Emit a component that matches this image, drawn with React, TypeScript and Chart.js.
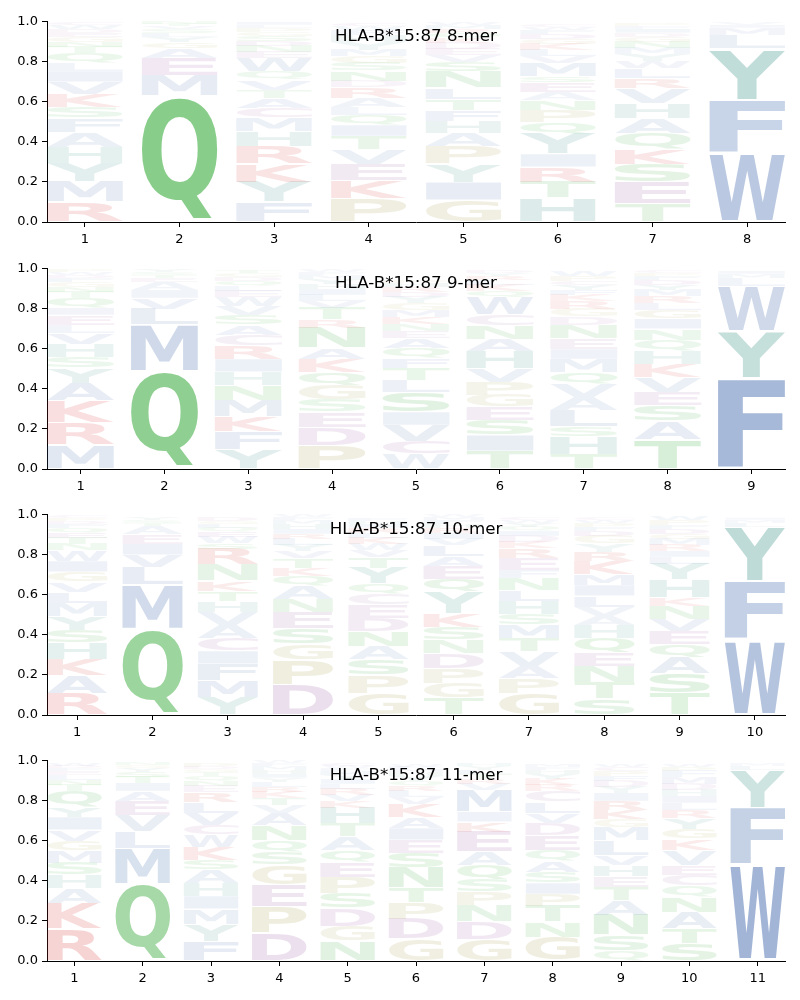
import React, { useEffect, useRef } from "react";
import { Chart, registerables } from "chart.js";

Chart.register(...registerables);

const ALLELE = "HLA-B*15:87";

// ---- 8-mer: letters bottom→top per position, with heights ----
const mer8Letters = [
  "RMYHAFSKVILQTNGEDWC",
  "QMEAGYLSVTN",
  "FYKRHMCATVQWENDSGPLI",
  "PKEVTIQLARDNSGMYHFWC",
  "GIYPAHFTLNSVEDKQRMW",
  "HTRIYQPNAESMVLKGDFWC",
  "TESKQAHVRLWYMNGDIFP",
  "WFYLMIV",
];
const mer8Heights = [
  [0.10, 0.10, 0.095, 0.08, 0.075, 0.07, 0.055, 0.065, 0.06, 0.055, 0.04, 0.05, 0.03, 0.025, 0.025, 0.02, 0.02, 0.02, 0.015],
  [0.63, 0.10, 0.09, 0.05, 0.03, 0.025, 0.02, 0.02, 0.015, 0.01, 0.01],
  [0.10, 0.10, 0.09, 0.09, 0.075, 0.065, 0.05, 0.05, 0.04, 0.05, 0.04, 0.07, 0.03, 0.03, 0.025, 0.025, 0.02, 0.02, 0.015, 0.015],
  [0.12, 0.09, 0.08, 0.075, 0.065, 0.055, 0.05, 0.04, 0.045, 0.055, 0.03, 0.05, 0.04, 0.035, 0.03, 0.04, 0.035, 0.025, 0.02, 0.015],
  [0.11, 0.09, 0.09, 0.09, 0.065, 0.06, 0.055, 0.055, 0.055, 0.08, 0.05, 0.035, 0.03, 0.03, 0.025, 0.025, 0.02, 0.02, 0.015],
  [0.12, 0.08, 0.075, 0.065, 0.10, 0.06, 0.06, 0.05, 0.04, 0.05, 0.03, 0.065, 0.035, 0.03, 0.03, 0.025, 0.025, 0.02, 0.015, 0.01],
  [0.09, 0.11, 0.09, 0.075, 0.08, 0.075, 0.075, 0.075, 0.05, 0.05, 0.035, 0.035, 0.03, 0.03, 0.025, 0.02, 0.02, 0.015, 0.015],
  [0.345, 0.265, 0.255, 0.07, 0.035, 0.015, 0.01],
];

// ---- 9-mer ----
const mer9Letters = [
  "MRKAYSHVLEIQTNGFDWP",
  "QMLVIAETSY",
  "YFKMNHIRCASVWELQDGT",
  "PDESGQKANRTVLIHYMFW",
  "WCVISLTFQAENKMGYDRHP",
  "TISEGPVHANCWQKLRYD",
  "THSLAVQMIENDGRKFYCPW",
  "TASEVKHQNIGLRMYDFPC",
  "FYWLMI",
];
const mer9Heights = [
  [0.12, 0.11, 0.11, 0.09, 0.075, 0.055, 0.065, 0.055, 0.04, 0.05, 0.035, 0.05, 0.03, 0.025, 0.025, 0.02, 0.015, 0.015, 0.01],
  [0.49, 0.23, 0.08, 0.055, 0.04, 0.04, 0.02, 0.015, 0.015, 0.01],
  [0.10, 0.09, 0.075, 0.08, 0.075, 0.065, 0.065, 0.065, 0.055, 0.05, 0.05, 0.045, 0.045, 0.03, 0.025, 0.025, 0.02, 0.02, 0.015],
  [0.12, 0.09, 0.075, 0.06, 0.075, 0.065, 0.065, 0.055, 0.10, 0.04, 0.06, 0.035, 0.03, 0.03, 0.025, 0.025, 0.02, 0.015, 0.01],
  [0.075, 0.065, 0.08, 0.065, 0.10, 0.06, 0.06, 0.05, 0.05, 0.05, 0.035, 0.035, 0.035, 0.035, 0.035, 0.03, 0.025, 0.025, 0.02, 0.015],
  [0.09, 0.08, 0.075, 0.065, 0.06, 0.065, 0.065, 0.09, 0.06, 0.065, 0.055, 0.09, 0.03, 0.03, 0.025, 0.02, 0.015, 0.01],
  [0.075, 0.09, 0.05, 0.08, 0.065, 0.065, 0.06, 0.065, 0.05, 0.055, 0.065, 0.04, 0.04, 0.04, 0.03, 0.025, 0.025, 0.02, 0.025, 0.025],
  [0.15, 0.09, 0.08, 0.065, 0.075, 0.065, 0.065, 0.055, 0.055, 0.05, 0.045, 0.035, 0.035, 0.03, 0.025, 0.025, 0.02, 0.015, 0.01],
  [0.455, 0.235, 0.225, 0.04, 0.02, 0.015],
];

// ---- 10-mer ----
const mer10Letters = [
  "RAKHSYMLVGIWNTEQFDPC",
  "QMLVIEATSY",
  "YMFICAVHTKNRSWEQLGD",
  "DPGSENAQKTVYLRIHMFW",
  "GPSANDECQYTVWKLRIHF",
  "TGPDNSKYQEALVIRHFMW",
  "GPAVTMSHLNFERKDIQYWC",
  "STNEQHAVLIMKRYGDFPWC",
  "TSAQEVNKHYLIRMGDFPW",
  "WFYLMI",
];
const mer10Heights = [
  [0.11, 0.09, 0.08, 0.08, 0.065, 0.07, 0.065, 0.055, 0.05, 0.05, 0.055, 0.055, 0.03, 0.03, 0.025, 0.025, 0.02, 0.015, 0.015, 0.01],
  [0.43, 0.22, 0.09, 0.06, 0.055, 0.05, 0.04, 0.015, 0.015, 0.01],
  [0.09, 0.085, 0.08, 0.065, 0.065, 0.065, 0.065, 0.055, 0.05, 0.05, 0.08, 0.08, 0.03, 0.03, 0.025, 0.02, 0.02, 0.015, 0.02],
  [0.15, 0.125, 0.08, 0.08, 0.08, 0.065, 0.065, 0.05, 0.04, 0.05, 0.035, 0.03, 0.03, 0.025, 0.025, 0.025, 0.02, 0.015, 0.01],
  [0.11, 0.09, 0.08, 0.065, 0.075, 0.065, 0.065, 0.055, 0.05, 0.08, 0.055, 0.035, 0.03, 0.03, 0.025, 0.025, 0.02, 0.015, 0.015],
  [0.085, 0.075, 0.075, 0.075, 0.065, 0.065, 0.065, 0.11, 0.065, 0.065, 0.05, 0.055, 0.03, 0.03, 0.025, 0.02, 0.02, 0.015, 0.01],
  [0.11, 0.075, 0.06, 0.075, 0.065, 0.065, 0.055, 0.065, 0.055, 0.06, 0.04, 0.06, 0.05, 0.03, 0.03, 0.025, 0.02, 0.02, 0.015, 0.015],
  [0.08, 0.085, 0.08, 0.065, 0.075, 0.065, 0.045, 0.045, 0.055, 0.055, 0.055, 0.065, 0.045, 0.04, 0.04, 0.025, 0.02, 0.02, 0.015, 0.01],
  [0.11, 0.10, 0.08, 0.065, 0.065, 0.06, 0.065, 0.04, 0.09, 0.08, 0.035, 0.03, 0.03, 0.03, 0.025, 0.025, 0.02, 0.025, 0.02],
  [0.375, 0.295, 0.27, 0.02, 0.015, 0.01],
];

// ---- 11-mer ----
const mer11Letters = [
  "RKAHSMGVIYQTNLEFDW",
  "QMLVEAITSYGN",
  "FYMIHASKWCVLRENQTGDP",
  "DPEGSQNAVTKRLYIHMFW",
  "NGDSPEQATHKVRLIYMFWC",
  "GDPTNSEIAKVLRQYHMFW",
  "GDNPSQAEKIMVRTLYH",
  "GNTPISAQEDVLCRKYHFM",
  "QSNATEHVLMGKRIYDFPCW",
  "STANQCEVKGYRLIHDMFPW",
  "WFYLM",
];
const mer11Heights = [
  [0.16, 0.13, 0.075, 0.065, 0.06, 0.06, 0.05, 0.055, 0.065, 0.05, 0.08, 0.03, 0.025, 0.025, 0.02, 0.015, 0.01, 0.015],
  [0.385, 0.175, 0.085, 0.08, 0.075, 0.05, 0.04, 0.03, 0.025, 0.02, 0.015, 0.01],
  [0.10, 0.085, 0.075, 0.065, 0.065, 0.065, 0.05, 0.065, 0.06, 0.05, 0.06, 0.055, 0.05, 0.03, 0.025, 0.025, 0.02, 0.015, 0.01, 0.02],
  [0.14, 0.13, 0.11, 0.10, 0.065, 0.06, 0.075, 0.06, 0.04, 0.035, 0.03, 0.025, 0.025, 0.02, 0.02, 0.02, 0.02, 0.015, 0.01],
  [0.10, 0.075, 0.09, 0.075, 0.08, 0.075, 0.06, 0.065, 0.065, 0.08, 0.035, 0.03, 0.03, 0.025, 0.025, 0.02, 0.02, 0.015, 0.01, 0.015],
  [0.11, 0.10, 0.08, 0.075, 0.10, 0.075, 0.065, 0.06, 0.055, 0.065, 0.035, 0.03, 0.025, 0.025, 0.025, 0.02, 0.015, 0.01, 0.01],
  [0.11, 0.09, 0.08, 0.065, 0.06, 0.075, 0.065, 0.10, 0.05, 0.05, 0.11, 0.03, 0.025, 0.025, 0.02, 0.02, 0.015],
  [0.12, 0.075, 0.08, 0.06, 0.055, 0.055, 0.055, 0.055, 0.075, 0.06, 0.05, 0.055, 0.055, 0.03, 0.03, 0.025, 0.02, 0.015, 0.015],
  [0.05, 0.08, 0.10, 0.075, 0.065, 0.055, 0.055, 0.05, 0.075, 0.065, 0.04, 0.045, 0.045, 0.04, 0.03, 0.03, 0.025, 0.025, 0.02, 0.015],
  [0.09, 0.075, 0.08, 0.075, 0.055, 0.055, 0.05, 0.075, 0.055, 0.05, 0.055, 0.04, 0.035, 0.035, 0.03, 0.03, 0.035, 0.03, 0.02, 0.015],
  [0.48, 0.285, 0.19, 0.02, 0.01],
];

const yTickValues = [0, 0.2, 0.4, 0.6, 0.8, 1.0];

// amino-acid colour groups (RGB)
const BLUE = [76, 114, 176];
const TEAL = [45, 138, 125];
const GREEN = [44, 165, 48];
const RED = [214, 39, 40];
const PURPLE = [150, 80, 160];
const OLIVE = [160, 150, 60];
const AA_COLOR: Record<string, number[]> = {
  A: BLUE, V: BLUE, L: BLUE, I: BLUE, M: BLUE, F: BLUE, W: BLUE,
  Y: TEAL, H: TEAL,
  Q: GREEN, N: GREEN, S: GREEN, T: GREEN,
  R: RED, K: RED,
  D: PURPLE, E: PURPLE, C: PURPLE,
  P: OLIVE, G: OLIVE,
};

const GLYPH_FONT = "bold 200px 'DejaVu Sans'";
const glyphCache: Record<string, { l: number; r: number; a: number; d: number }> = {};

function measureGlyph(ctx: CanvasRenderingContext2D, ch: string) {
  if (!glyphCache[ch]) {
    ctx.font = GLYPH_FONT;
    const m = ctx.measureText(ch);
    glyphCache[ch] = {
      l: m.actualBoundingBoxLeft,
      r: m.actualBoundingBoxRight,
      a: m.actualBoundingBoxAscent,
      d: m.actualBoundingBoxDescent,
    };
  }
  return glyphCache[ch];
}

const logoPlugin = {
  id: "logoLetters",
  afterDatasetsDraw(chart: any) {
    const ctx: CanvasRenderingContext2D = chart.ctx;
    ctx.save();
    ctx.font = GLYPH_FONT;
    ctx.textAlign = "left";
    ctx.textBaseline = "alphabetic";
    chart.data.datasets.forEach((ds: any, d: number) => {
      const meta = chart.getDatasetMeta(d);
      meta.data.forEach((el: any, i: number) => {
        const val = ds.data[i].y;
        const ch = ds.letters[i];
        if (!val || !ch) return;
        const p = el.getProps(["x", "y", "base", "width"], true);
        const top = Math.min(p.y, p.base);
        const bot = Math.max(p.y, p.base);
        const hh = bot - top;
        const pad = hh * 0.025;
        const g = measureGlyph(ctx, ch);
        const gw = g.l + g.r;
        const gh = g.a + g.d;
        const c = AA_COLOR[ch] || BLUE;
        const alpha = Math.min(0.56, 0.04 + val);
        ctx.save();
        ctx.translate(p.x - p.width / 2, top + pad);
        ctx.scale(p.width / gw, (hh - 2 * pad) / gh);
        ctx.fillStyle = `rgba(${c[0]},${c[1]},${c[2]},${alpha})`;
        ctx.font = GLYPH_FONT;
        ctx.fillText(ch, g.l, g.a);
        ctx.restore();
      });
    });
    ctx.restore();
  },
};

const titlePlugin = {
  id: "innerTitle",
  afterDraw(chart: any) {
    const t = chart.options.plugins.innerTitle?.text;
    if (!t) return;
    const { left, right, top } = chart.chartArea;
    const ctx: CanvasRenderingContext2D = chart.ctx;
    ctx.save();
    ctx.font = "16.7px 'DejaVu Sans'";
    ctx.fillStyle = "#000";
    ctx.textAlign = "center";
    ctx.textBaseline = "middle";
    ctx.fillText(t, (left + right) / 2, top + 15);
    ctx.restore();
  },
};

const TICK_FONT = { family: "'DejaVu Sans'", size: 13 };

function LogoPanel({ title, letters, heights, top }: { title: string; letters: string[]; heights: number[][]; top: number }) {
  const ref = useRef<HTMLCanvasElement>(null);
  useEffect(() => {
    const n = letters.length;
    const positions = letters.map((_, i) => i + 1);
    const layers = Math.max(...letters.map((s) => s.length));
    const datasets: any[] = [];
    for (let k = 0; k < layers; k++) {
      datasets.push({
        data: positions.map((pos, i) => ({ x: pos, y: heights[i][k] ?? 0 })),
        letters: letters.map((s) => s[k] ?? ""),
        backgroundColor: "rgba(0,0,0,0)",
        borderWidth: 0,
        barPercentage: 0.8,
        categoryPercentage: 1.0,
      });
    }
    const chart = new Chart(ref.current as HTMLCanvasElement, {
      type: "bar",
      data: { datasets },
      plugins: [logoPlugin, titlePlugin],
      options: {
        responsive: false,
        maintainAspectRatio: false,
        animation: false,
        layout: { padding: { top: 11, right: 15, left: 0, bottom: 0 } },
        plugins: {
          legend: { display: false },
          tooltip: { enabled: false },
          innerTitle: { text: title },
        } as any,
        scales: {
          x: {
            type: "linear",
            min: 0.6,
            max: n + 0.4,
            stacked: true,
            offset: false,
            grid: { offset: false, drawOnChartArea: false, drawTicks: true, tickLength: 5, color: "#000", lineWidth: 1 },
            border: { display: true, color: "#000", width: 1 },
            ticks: { color: "#000", font: TICK_FONT, padding: 5, autoSkip: false, maxRotation: 0 },
            afterBuildTicks: (s: any) => {
              s.ticks = positions.map((v) => ({ value: v }));
            },
            afterFit: (s: any) => {
              s.height = 34;
            },
          },
          y: {
            min: 0,
            max: 1,
            stacked: true,
            grid: { drawOnChartArea: false, drawTicks: true, tickLength: 5, color: "#000", lineWidth: 1 },
            border: { display: true, color: "#000", width: 1 },
            ticks: {
              color: "#000",
              font: TICK_FONT,
              padding: 4,
              callback: (v: any) => Number(v).toFixed(1),
            },
            afterBuildTicks: (s: any) => {
              s.ticks = yTickValues.map((v) => ({ value: v }));
            },
            afterFit: (s: any) => {
              s.width = 47;
            },
          },
        },
      } as any,
    });
    return () => chart.destroy();
  }, []);
  return (
    <canvas
      ref={ref}
      width={800}
      height={246}
      style={{ position: "absolute", left: 0, top, width: 800, height: 246, display: "block" }}
    />
  );
}

export default function App() {
  return (
    <div style={{ position: "absolute", left: 0, top: 0, width: 800, height: 1000, background: "#fff" }}>
      <LogoPanel title={`${ALLELE} 8-mer`} letters={mer8Letters} heights={mer8Heights} top={10} />
      <LogoPanel title={`${ALLELE} 9-mer`} letters={mer9Letters} heights={mer9Heights} top={257} />
      <LogoPanel title={`${ALLELE} 10-mer`} letters={mer10Letters} heights={mer10Heights} top={503} />
      <LogoPanel title={`${ALLELE} 11-mer`} letters={mer11Letters} heights={mer11Heights} top={749} />
    </div>
  );
}
